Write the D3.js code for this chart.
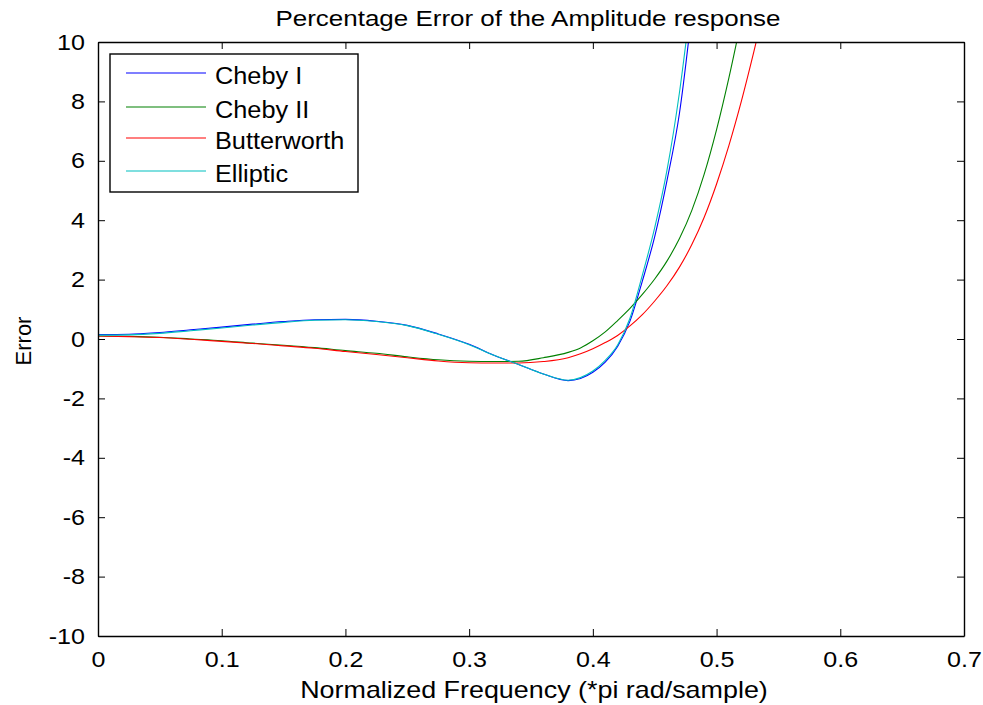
<!DOCTYPE html>
<html>
<head>
<meta charset="utf-8">
<script src="https://cdn.jsdelivr.net/npm/d3@7"></script>
<style>
	body{margin:0;background:#fff;}
	text{font-family:Arial,"Liberation Sans",sans-serif;fill:#000;}
</style>
</head>
<body>
<svg id="chart" width="983" height="705"></svg>
<script>

// ---------------------------------------------- DATA ---------------------------------------------------
var freq = [0,0.025,0.05,0.075,0.1,0.125,0.15,0.175,0.2,0.225,0.25,0.275,0.3,0.32,0.34,0.36,0.38,0.39,
	0.4,0.41,0.42,0.43,0.44,0.45,0.46,0.47,0.48,0.49,0.5,0.51,0.52,0.53,0.54];

var chebyI = [0.15,0.16,0.22,0.31,0.40,0.50,0.59,0.65,0.66,0.60,0.46,0.17,-0.18,-0.55,-0.86,-1.18,-1.40,-1.33,
	-1.12,-0.78,-0.25,0.60,1.95,3.45,5.35,7.6,11.0,15,18,21,24,27,30];
var chebyII = [0.10,0.09,0.06,0.0,-0.06,-0.14,-0.21,-0.29,-0.39,-0.48,-0.60,-0.70,-0.75,-0.76,-0.75,-0.63,-0.45,-0.30,
	-0.06,0.24,0.62,1.03,1.50,2.02,2.63,3.38,4.33,5.55,7.05,8.8,10.75,12.8,15];
var butterworth = [0.10,0.08,0.05,-0.01,-0.08,-0.15,-0.23,-0.31,-0.42,-0.52,-0.63,-0.74,-0.80,-0.81,-0.81,-0.76,-0.63,-0.50,
	-0.33,-0.12,0.12,0.44,0.82,1.28,1.80,2.42,3.18,4.10,5.22,6.52,8.0,9.65,11.4];
var elliptic = [0.13,0.14,0.19,0.28,0.37,0.47,0.56,0.63,0.65,0.59,0.45,0.16,-0.19,-0.55,-0.86,-1.18,-1.39,-1.30,
	-1.08,-0.72,-0.20,0.70,2.15,3.75,5.7,8.3,11.6,15,18,21,24,27,30];

var seriesNames = ["Cheby I","Cheby II","Butterworth","Elliptic"];
var seriesColors = ["#0000ff","#008000","#ff0000","#00bfbf"];

var xTicks = [0,0.1,0.2,0.3,0.4,0.5,0.6,0.7];
var yTicks = [-10,-8,-6,-4,-2,0,2,4,6,8,10];

var TITLE = "Percentage Error of the Amplitude response";
var XLABEL = "Normalized Frequency (*pi rad/sample)";
var YLABEL = "Error";

// ---------------------------------------------- LAYOUT ---------------------------------------------------
var PLOT_LEFT = 98, PLOT_RIGHT = 964, PLOT_TOP = 42, PLOT_BOTTOM = 636;
var TICK_LEN = 7;
// the reference text is a bit wider than plain Arial, so glyphs get stretched
var TEXT_STRETCH = 1.14;

var svg = d3.select("#chart");

var x = d3.scaleLinear().domain([0,0.7]).range([PLOT_LEFT,PLOT_RIGHT]);
var y = d3.scaleLinear().domain([-10,10]).range([PLOT_BOTTOM,PLOT_TOP]);

drawChart();

function drawChart(){
	var _allSeries = [chebyI,chebyII,butterworth,elliptic];

	svg.append("defs").append("clipPath").attr("id","plotClip")
		.append("rect")
		.attr("x",PLOT_LEFT)
		.attr("y",PLOT_TOP)
		.attr("width",PLOT_RIGHT-PLOT_LEFT)
		.attr("height",PLOT_BOTTOM-PLOT_TOP);

	//------------ curves ----------------
	var _line = d3.line()
		.x(function(d){return x(d[0]);})
		.y(function(d){return y(d[1]);})
		.curve(d3.curveMonotoneX);

	var curves = svg.append("g").attr("id","curves").attr("clip-path","url(#plotClip)");
	for (var i in _allSeries){
		var _pts = freq.map(function(f,k){return [f,_allSeries[i][k]];});
		curves.append("path")
			.attr("d",_line(_pts))
			.style("fill","none")
			.style("stroke",seriesColors[i])
			.style("stroke-width",1.1);
	}

	_drawAxes();
	_drawLegend(110,54,248,138);

	//------------ labels ----------------
	var _title = svg.append("text")
		.text(TITLE)
		.attr("x",528)
		.attr("y",26)
		.style("text-anchor","middle")
		.style("font-size","22px");
	_stretch(_title,1.18);

	var _xlabel = svg.append("text")
		.text(XLABEL)
		.attr("x",534)
		.attr("y",698)
		.style("text-anchor","middle")
		.style("font-size","24px");
	_stretch(_xlabel,1.12);

	svg.append("text")
		.text(YLABEL)
		.attr("transform","translate(31,341) rotate(-90)")
		.style("text-anchor","middle")
		.style("font-size","22px");
}

function _stretch(sel,factor){
	sel.each(function(){
		var _w = this.getComputedTextLength();
		d3.select(this)
			.attr("textLength",_w*factor)
			.attr("lengthAdjust","spacingAndGlyphs");
	});
}

function _drawAxes(){
	var axes = svg.append("g").attr("id","axes");
	var _fmt = function(d){return String(d);};

	// bottom + top ticks, inward
	axes.append("g")
		.attr("transform","translate(0,"+PLOT_BOTTOM+")")
		.call(d3.axisBottom(x).tickValues(xTicks).tickSizeInner(-TICK_LEN).tickSizeOuter(0).tickPadding(15).tickFormat(_fmt))
		.call(_styleAxis);
	axes.append("g")
		.attr("transform","translate(0,"+PLOT_TOP+")")
		.call(d3.axisTop(x).tickValues(xTicks).tickSizeInner(-TICK_LEN).tickSizeOuter(0).tickFormat(""))
		.call(_styleAxis);

	// left + right ticks, inward
	axes.append("g")
		.attr("transform","translate("+PLOT_LEFT+",0)")
		.call(d3.axisLeft(y).tickValues(yTicks).tickSizeInner(-TICK_LEN).tickSizeOuter(0).tickPadding(13).tickFormat(_fmt))
		.call(_styleAxis);
	axes.append("g")
		.attr("transform","translate("+PLOT_RIGHT+",0)")
		.call(d3.axisRight(y).tickValues(yTicks).tickSizeInner(-TICK_LEN).tickSizeOuter(0).tickFormat(""))
		.call(_styleAxis);
}

function _styleAxis(g){
	g.select(".domain").style("stroke","#000").style("stroke-width",1.4);
	g.selectAll(".tick line").style("stroke","#000").style("stroke-width",1);
	var _t = g.selectAll(".tick text")
		.style("font-family","Arial,'Liberation Sans',sans-serif")
		.style("font-size","22px")
		.style("fill","#000");
	_stretch(_t,TEXT_STRETCH);
}

function _drawLegend(lx,ly,lw,lh){
	var legend = svg.append("g").attr("id","legend");
	var _rowY = [73,107,138,171];

	legend.append("rect")
		.attr("x",lx)
		.attr("y",ly)
		.attr("width",lw)
		.attr("height",lh)
		.style("fill","#fff")
		.style("stroke","#000")
		.style("stroke-width",1.4);

	for (var i in seriesNames){
		legend.append("line")
			.attr("x1",lx+16)
			.attr("x2",lx+96)
			.attr("y1",_rowY[i])
			.attr("y2",_rowY[i])
			.style("stroke",seriesColors[i])
			.style("stroke-width",1.1);
		var _txt = legend.append("text")
			.text(seriesNames[i])
			.attr("x",lx+105)
			.attr("y",_rowY[i]+11)
			.style("font-size","23px");
		_stretch(_txt,1.1);
	}
}
</script>
</body>
</html>
